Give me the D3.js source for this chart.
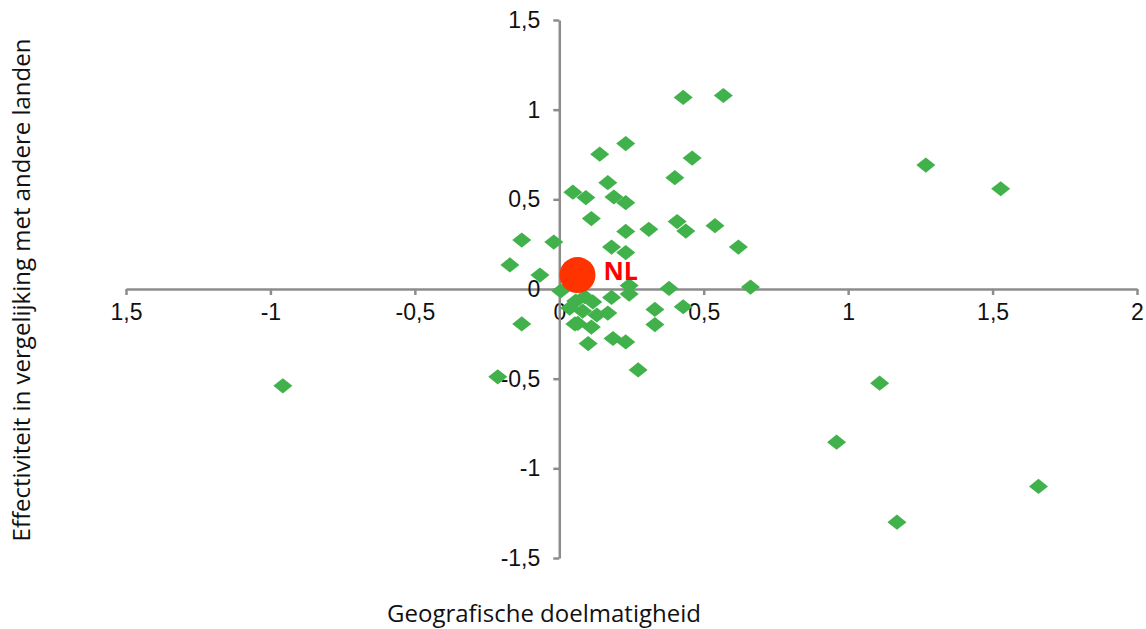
<!doctype html>
<html lang="nl">
<head>
<meta charset="utf-8">
<title>Geografische doelmatigheid</title>
<script src="https://cdn.jsdelivr.net/npm/d3@7"></script>
<style>
	body { margin: 0; background: #fff; }
	svg { display: block; font-family: "Open Sans", sans-serif; }
	.tick text { font-size: 23px; fill: #111; }
	.tick line, .domain { stroke: #8c8c8c; stroke-width: 2.5; }
</style>
</head>
<body>
<svg id="chart" width="1146" height="629"></svg>
<script>
// landen: geografische doelmatigheid (x) en effectiviteit (y)
var geoX = [-0.957, -0.213, -0.130, -0.171, -0.067, -0.130, -0.019, 0.005, 0.047, 0.092,
	0.111, 0.140, 0.230, 0.168, 0.189, 0.230, 0.181, 0.230, 0.230, 0.310,
	0.400, 0.429, 0.568, 0.460, 0.408, 0.438, 0.539, 0.620, 0.662, 0.380,
	0.242, 0.242, 0.181, 0.429, 0.331, 0.331, 0.273, 0.186, 0.230, 0.100,
	1.269, 1.528, 1.109, 0.960, 1.659, 1.169,
	0.088, 0.116, 0.168, 0.130, 0.064, 0.111, 0.081, 0.036, 0.057, 0.054];
var effY = [-0.540, -0.490, -0.195, 0.134, 0.078, 0.273, 0.262, -0.011, 0.540, 0.510,
	0.393, 0.752, 0.811, 0.593, 0.513, 0.481, 0.234, 0.203, 0.321, 0.333,
	0.621, 1.068, 1.079, 0.730, 0.376, 0.323, 0.353, 0.234, 0.011, 0.003,
	0.019, -0.028, -0.047, -0.099, -0.114, -0.198, -0.451, -0.276, -0.295, -0.304,
	0.691, 0.559, -0.525, -0.854, -1.101, -1.300,
	-0.043, -0.072, -0.134, -0.145, -0.192, -0.212, -0.123, -0.106, -0.067, -0.195];
var nlPoint = { name: "NL", x: 0.063, y: 0.078 };

var xTicks = [-1.5, -1, -0.5, 0, 0.5, 1, 1.5, 2];
var xTickLabels = ["1,5", "-1", "-0,5", "0", "0,5", "1", "1,5", "2"];
var yTicks = [-1.5, -1, -0.5, 0, 0.5, 1, 1.5];
var yTickLabels = ["-1,5", "-1", "-0,5", "0", "0,5", "1", "1,5"];

var svg = d3.select("#chart");
var xScale = d3.scaleLinear().domain([-1.5, 2]).range([126, 1137]);
var yScale = d3.scaleLinear().domain([-1.5, 1.5]).range([558, 20]);

// assen door de oorsprong
var xAxis = d3.axisBottom(xScale)
	.tickValues(xTicks)
	.tickFormat(function(d, i) { return xTickLabels[i]; })
	.tickSize(6)
	.tickSizeOuter(0)
	.tickPadding(9);
svg.append("g").attr("id", "xAxisG")
	.attr("transform", "translate(0," + yScale(0) + ")")
	.call(xAxis);

var yAxis = d3.axisLeft(yScale)
	.tickValues(yTicks)
	.tickFormat(function(d, i) { return yTickLabels[i]; })
	.tickSize(6)
	.tickSizeOuter(0)
	.tickPadding(13);
svg.append("g").attr("id", "yAxisG")
	.attr("transform", "translate(" + xScale(0) + ",0)")
	.call(yAxis);

// ruit als marker, iets breder dan hoog
var diamond = {
	draw: function(ctx, size) {
		var w = Math.sqrt(size) * 0.55, h = Math.sqrt(size) * 0.44;
		ctx.moveTo(0, -h); ctx.lineTo(w, 0); ctx.lineTo(0, h); ctx.lineTo(-w, 0); ctx.closePath();
	}
};
var points = geoX.map(function(x, i) { return { x: x, y: effY[i] }; });
svg.append("g").selectAll("path")
	.data(points)
	.enter().append("path")
	.attr("d", d3.symbol().type(diamond).size(300))
	.attr("transform", function(d) { return "translate(" + xScale(d.x) + "," + yScale(d.y) + ")"; })
	.attr("fill", "#41b24b");

svg.append("circle")
	.attr("cx", xScale(nlPoint.x))
	.attr("cy", yScale(nlPoint.y))
	.attr("r", 18)
	.attr("fill", "#ff3300");
svg.append("text")
	.attr("x", xScale(nlPoint.x) + 26)
	.attr("y", yScale(nlPoint.y) + 5)
	.attr("font-size", 25)
	.attr("font-weight", "bold")
	.attr("fill", "#ff0000")
	.text(nlPoint.name);

// astitels
svg.append("text")
	.attr("x", 544).attr("y", 622)
	.attr("text-anchor", "middle")
	.attr("font-size", 24)
	.attr("fill", "#111")
	.text("Geografische doelmatigheid");
svg.append("text")
	.attr("transform", "translate(30,290) rotate(-90)")
	.attr("text-anchor", "middle")
	.attr("font-size", 24)
	.attr("fill", "#111")
	.text("Effectiviteit in vergelijking met andere landen");
</script>
</body>
</html>
